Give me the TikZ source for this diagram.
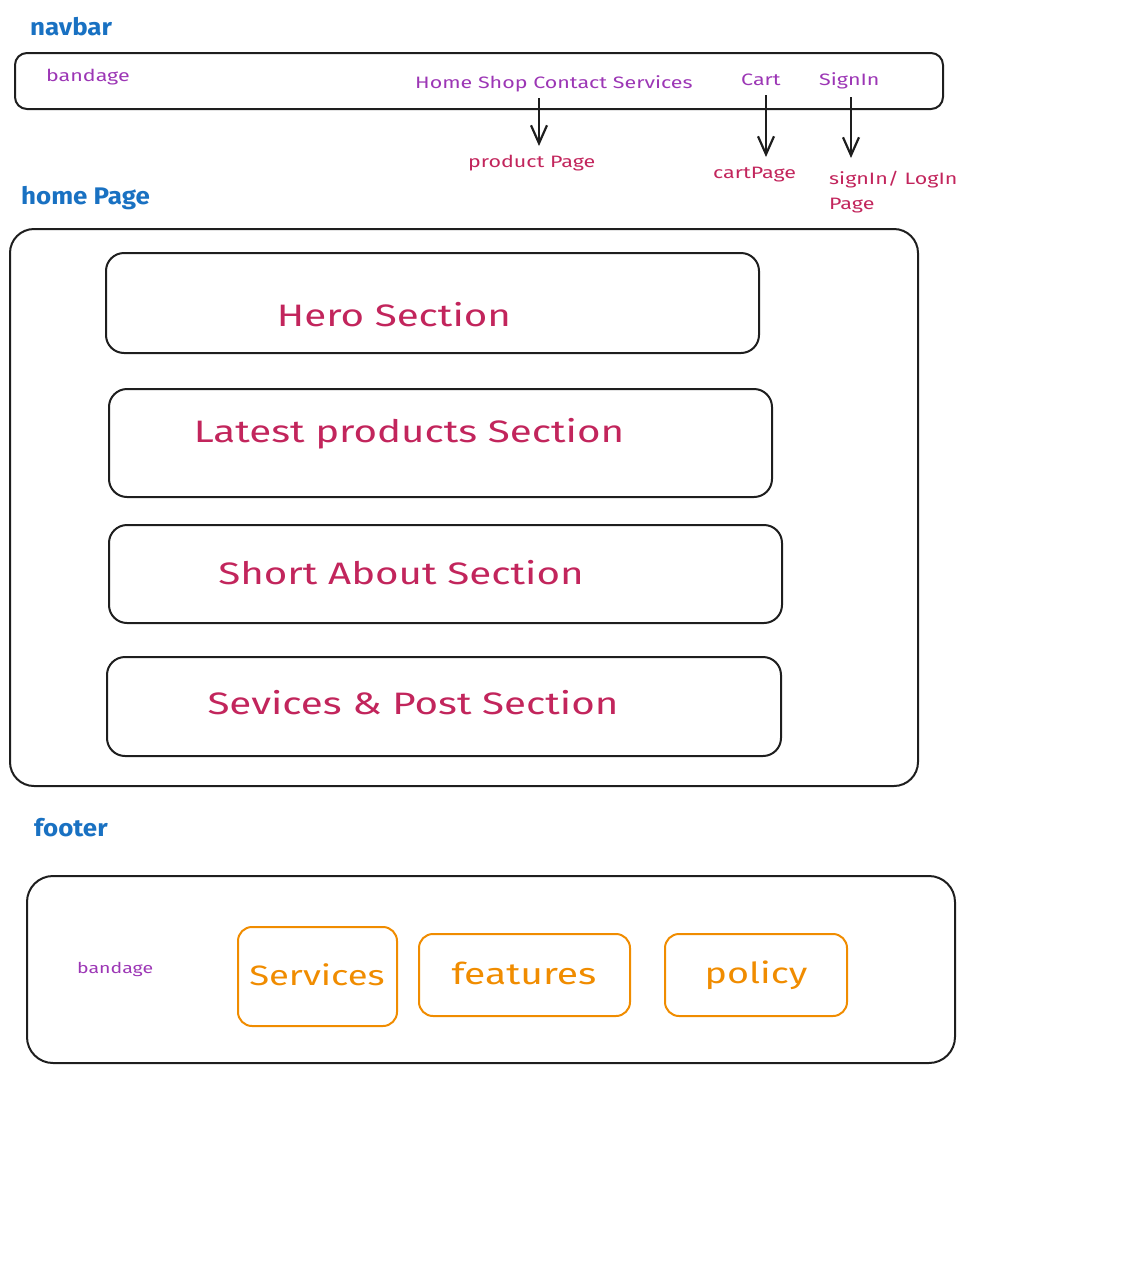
\documentclass[tikz,border=0pt]{standalone}
\usepackage{fontspec}
\setmainfont{Fira Sans}
\newfontfamily\hand[FakeStretch=1.3]{Fira Sans}
\newfontfamily\headf[FakeStretch=1.08]{Fira Sans}
\usetikzlibrary{arrows.meta}
\definecolor{ink}{HTML}{1E1E1E}
\definecolor{hblue}{HTML}{1971C2}
\definecolor{hpurple}{HTML}{9C36B5}
\definecolor{hred}{HTML}{C2255C}
\definecolor{horange}{HTML}{F08C00}
\tikzset{
  x=1pt,y=-1pt,
  frame/.style={draw=ink,line width=2pt,rounded corners=#1},
  frame/.default=14pt,
  obox/.style={draw=horange,line width=2pt,rounded corners=14pt},
  head/.style={text=hblue,font=\headf\bfseries\fontsize{24}{26}\selectfont,anchor=west,inner sep=0pt},
  nav/.style={text=hpurple,font=\hand\fontsize{16.5}{18}\selectfont,anchor=west,inner sep=0pt},
  dest/.style={text=hred,font=\hand\fontsize{16.5}{25}\selectfont,anchor=west,inner sep=0pt,align=left},
  sect/.style={text=hred,font=\hand\fontsize{31}{34}\selectfont,inner sep=0pt},
  otext/.style={text=horange,font=\hand\fontsize{30}{34}\selectfont,inner sep=0pt},
  arr/.style={draw=ink,line width=2.2pt,-{Straight Barb[length=18pt,width=16pt]}},
}
\begin{document}
\begin{tikzpicture}
\useasboundingbox (0,0) rectangle (1126,1283);
% navbar
\node[head] (lnav) at (30,27) {navbar};
\draw[frame=12pt] (15,53) rectangle (943,109);
\node[nav] (nbrand) at (46,77) {bandage};
\node[nav] (nlinks) at (415,84) {Home Shop Contact Services};
\node[nav] (ncart) at (741,80) {Cart};
\node[nav] (nsign) at (819,81) {SignIn};
\coordinate (a1) at (539,98);
\coordinate (a2) at (766,95);
\coordinate (a3) at (851,97);
\node[dest] (dprod) at (468,163) {product Page};
\node[dest] (dcart) at (713,175) {cartPage};
\node[dest,anchor=north west] (dsign) at (829,171) {signIn/ LogIn\\Page};
\draw[arr] (a1) -- (539,146);
\draw[arr] (a2) -- (766,157);
\draw[arr] (a3) -- (851,158);
% home page
\node[head] (lhome) at (21,198) {home Page};
\draw[frame=24pt] (10,229) rectangle (918,786);
\draw[frame=18pt] (106,253) rectangle (759,353);
\node[sect] (thero) at (394,315) {Hero Section};
\draw[frame=18pt] (109,389) rectangle (772,497);
\node[sect] (tlatest) at (409,434) {Latest products Section};
\draw[frame=18pt] (109,525) rectangle (782,623);
\node[sect] (tabout) at (401,573) {Short About Section};
\draw[frame=18pt] (107,657) rectangle (781,756);
\node[sect] (tserv) at (413,703) {Sevices \& Post Section};
% footer
\node[head] (lfoot) at (34,828) {footer};
\draw[frame=26pt] (27,876) rectangle (955,1063);
\node[nav,font=\hand\fontsize{15}{17}\selectfont] (fbrand) at (77,969) {bandage};
\draw[obox] (238,927) rectangle (397,1026);
\node[otext,font=\hand\fontsize{28}{34}\selectfont] (fserv) at (317,975) {Services};
\draw[obox] (419,934) rectangle (630,1016);
\node[otext] (ffeat) at (524,973) {features};
\draw[obox] (665,934) rectangle (847,1016);
\node[otext,font=\hand\fontsize{29}{34}\selectfont] (fpol) at (756,975) {policy};
\end{tikzpicture}
\end{document}
